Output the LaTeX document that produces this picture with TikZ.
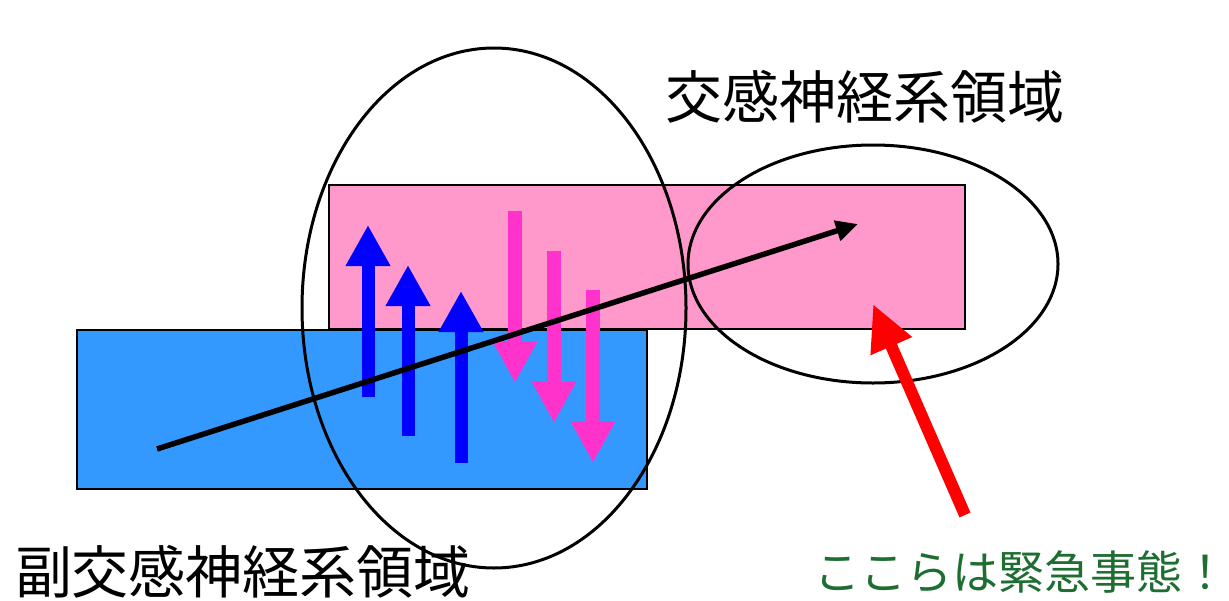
\documentclass[tikz,border=0pt]{standalone}
\usepackage{fontspec}
\newfontfamily\cjk{Noto Sans CJK JP}
\usetikzlibrary{arrows.meta}
\definecolor{pinkbox}{RGB}{255,153,204}
\definecolor{bluebox}{RGB}{51,153,255}
\definecolor{uparrow}{RGB}{0,0,255}
\definecolor{downarrow}{RGB}{255,51,204}
\definecolor{alertred}{RGB}{255,0,0}
\definecolor{alertgreen}{RGB}{30,110,50}
\tikzset{
  region/.style={draw=black, line width=1.5pt},
  zone/.style={draw=black, line width=3pt},
  uparr/.style={draw=uparrow, line width=13pt, -{Triangle[length=41pt,width=42pt]}},
  downarr/.style={draw=downarrow, line width=14pt, -{Triangle[length=42pt,width=42pt]}},
  trend/.style={draw=black, line width=5.5pt, -{Triangle[length=22pt,width=20pt]}},
  alert/.style={draw=alertred, line width=12pt, -{Triangle[length=46pt,width=42pt]}},
  label/.style={font=\cjk\fontsize{57}{60}\selectfont, inner sep=0pt}
}
\begin{document}
\begin{tikzpicture}[x=1pt,y=-1pt]
\useasboundingbox (0,0) rectangle (1229,600);
% regions
\filldraw[region, fill=pinkbox] (329,185) rectangle (965,329);
\filldraw[region, fill=bluebox] (77,330) rectangle (647,489);
% zones
\draw[zone] (494,308) ellipse [x radius=192, y radius=260];
\draw[zone] (873,264) ellipse [x radius=185, y radius=119];
% up arrows
\coordinate (u1s) at (368,397); \coordinate (u1e) at (368,225);
\coordinate (u2s) at (408,436); \coordinate (u2e) at (408,265);
\coordinate (u3s) at (461,463); \coordinate (u3e) at (461,291);
\draw[uparr] (u1s) -- (u1e);
\draw[uparr] (u2s) -- (u2e);
\draw[uparr] (u3s) -- (u3e);
% down arrows
\coordinate (d1s) at (515,211); \coordinate (d1e) at (515,383);
\coordinate (d2s) at (554,251); \coordinate (d2e) at (554,423);
\coordinate (d3s) at (593,290); \coordinate (d3e) at (593,463);
\draw[downarr] (d1s) -- (d1e);
\draw[downarr] (d2s) -- (d2e);
\draw[downarr] (d3s) -- (d3e);
% trend arrow
\coordinate (ts) at (157,449); \coordinate (te) at (858,224);
\draw[trend] (ts) -- (te);
% alert arrow
\coordinate (as) at (965,515); \coordinate (ae) at (873,304);
\draw[alert] (as) -- (ae);
% labels
\node[label] (symp) at (865,97) {交感神経系領域};
\node[label] (para) at (243,572) {副交感神経系領域};
\node[label, anchor=east, text=alertgreen, font=\cjk\fontsize{46}{50}\selectfont] (emerg) at (1229,572) {ここらは緊急事態！};
\end{tikzpicture}
\end{document}
